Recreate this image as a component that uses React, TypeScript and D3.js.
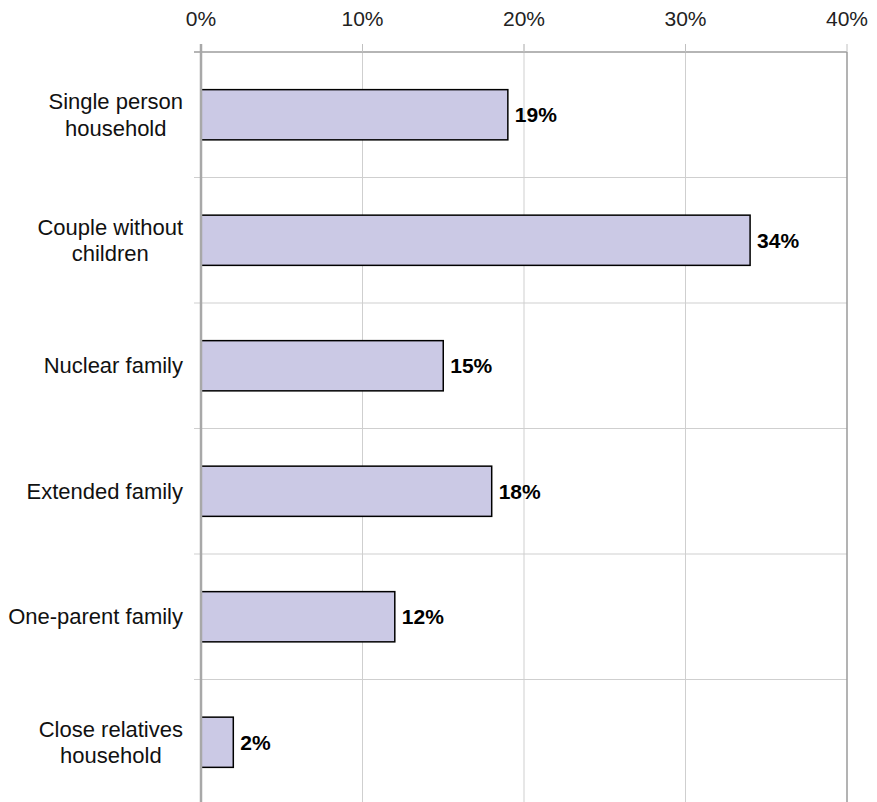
import React from "react";
import * as d3 from "d3";

const categories: string[][] = [
  ["Single person", "household"],
  ["Couple without", "children"],
  ["Nuclear family"],
  ["Extended family"],
  ["One-parent family"],
  ["Close relatives", "household"],
];
const values: number[] = [19, 34, 15, 18, 12, 2];
const ticks: number[] = [0, 10, 20, 30, 40];

const W = 877;
const H = 802;
const left = 201;
const right = 847;
const top = 52;
const bottom = 805;
const FONT = "'Liberation Sans', Arial, Helvetica, sans-serif";

const measure = (() => {
  const c = typeof document !== "undefined" ? document.createElement("canvas").getContext("2d") : null;
  return (t: string, size: number, weight = "normal") => {
    if (!c) return t.length * size * 0.5;
    c.font = `${weight} ${size}px ${FONT}`;
    return c.measureText(t).width;
  };
})();

export default function App() {
  const x = d3.scaleLinear().domain([0, 40]).range([left, right]);
  const y = d3
    .scaleBand<number>()
    .domain(d3.range(categories.length))
    .range([top, bottom])
    .paddingInner(0)
    .paddingOuter(0);
  const bw = y.bandwidth();
  const barH = bw * 0.4;
  const boundaries = d3.range(categories.length + 1).map((i) => top + i * bw);

  return (
    <svg width={W} height={H} style={{ position: "absolute", left: 0, top: 0, background: "#fff" }} fontFamily={FONT}>
      {/* vertical gridlines */}
      {ticks.slice(1, -1).map((t) => (
        <line key={"vg" + t} x1={x(t)} x2={x(t)} y1={top - 8} y2={H} stroke="#cfcfcf" strokeWidth={1} />
      ))}
      {/* horizontal gridlines (category separators) */}
      {boundaries.slice(1).map((b, i) => (
        <line key={"hg" + i} x1={left - 7} x2={right} y1={b} y2={b} stroke="#cfcfcf" strokeWidth={1} />
      ))}
      {/* top axis line */}
      <line x1={left - 7} x2={right} y1={top} y2={top} stroke="#b5b5b5" strokeWidth={2} />
      {/* top tick marks */}
      {ticks.map((t) => (
        <line key={"tt" + t} x1={x(t)} x2={x(t)} y1={top - 8} y2={top} stroke="#c0c0c0" strokeWidth={1} />
      ))}
      {/* right border */}
      <line x1={right} x2={right} y1={top} y2={H} stroke="#9a9a9a" strokeWidth={1.5} />
      {/* bars */}
      {values.map((v, i) => {
        const yc = (y(i) as number) + bw / 2;
        return (
          <rect
            key={"b" + i}
            x={x(0)}
            y={yc - barH / 2}
            width={x(v) - x(0)}
            height={barH}
            fill="#cbc9e5"
            stroke="#000"
            strokeWidth={1.5}
          />
        );
      })}
      {/* left axis line */}
      <line x1={left} x2={left} y1={top - 8} y2={H} stroke="#a8a8a8" strokeWidth={2.5} />
      {/* tick labels */}
      {ticks.map((t) => (
        <text key={"tl" + t} x={x(t)} y={26} textAnchor="middle" fontSize={21} fill="#222">
          {t + "%"}
        </text>
      ))}
      {/* value labels */}
      {values.map((v, i) => {
        const yc = (y(i) as number) + bw / 2;
        return (
          <text key={"vl" + i} x={x(v) + 7} y={yc + 7.5} fontSize={21} fontWeight="bold" fill="#000">
            {v + "%"}
          </text>
        );
      })}
      {/* category labels */}
      {categories.map((lines, i) => {
        const yc = (y(i) as number) + bw / 2;
        const maxW = Math.max(...lines.map((l) => measure(l, 22)));
        const cx = 183 - maxW / 2;
        const lh = 26.5;
        return (
          <text key={"cl" + i} fontSize={22} fill="#111" textAnchor="middle">
            {lines.map((l, j) => (
              <tspan key={j} x={cx} y={yc + 7.5 + (j - (lines.length - 1) / 2) * lh}>
                {l}
              </tspan>
            ))}
          </text>
        );
      })}
    </svg>
  );
}
